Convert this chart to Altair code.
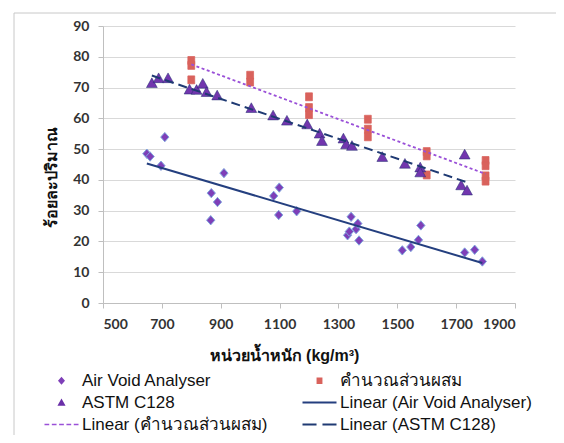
import altair as alt
import pandas as pd

# ---- data ----
ava_x = [649, 660, 697, 710, 866, 868, 889, 911, 1080, 1097, 1099, 1158,
         1331, 1337, 1343, 1360, 1366, 1370, 1517, 1546, 1572, 1580, 1729, 1763, 1789]
ava_y = [48.5, 47.6, 44.6, 53.9, 26.9, 35.7, 32.8, 42.2, 34.8, 28.6, 37.5, 29.8,
         22.0, 23.2, 28.0, 24.0, 25.8, 20.3, 17.1, 18.2, 20.5, 25.2, 16.4, 17.3, 13.5]

astm_x = [666, 689, 721, 794, 818, 839, 852, 888, 1004, 1078, 1125, 1194,
          1236, 1244, 1317, 1326, 1346, 1449, 1526, 1578, 1578, 1717, 1729, 1737]
astm_y = [71.4, 73.0, 73.0, 69.3, 69.2, 71.2, 68.5, 67.4, 63.3, 60.9, 59.2, 58.0,
          55.0, 52.6, 53.4, 51.5, 51.0, 47.4, 45.2, 44.0, 42.4, 38.2, 48.2, 36.5]

calc_x = [800, 800, 800, 1000, 1000, 1200, 1200, 1200, 1400, 1400, 1400,
          1600, 1600, 1600, 1800, 1800, 1800, 1800]
calc_y = [78.8, 77.2, 72.5, 74.0, 71.8, 67.0, 63.5, 61.2, 59.7, 56.5, 54.0,
          49.2, 47.8, 41.6, 46.3, 44.6, 41.3, 39.6]

names = ["Air Void Analyser", "คำนวณส่วนผสม", "ASTM C128",
         "Linear (Air Void Analyser)", "Linear (คำนวณส่วนผสม)", "Linear (ASTM C128)"]

x_ticks = [500, 700, 900, 1100, 1300, 1500, 1700, 1900]
y_ticks = [0, 10, 20, 30, 40, 50, 60, 70, 80, 90]

# ---- styles ----
point_fill = ["#7E3FB8", "#D9625C", "#7236AE"]
point_outline = ["#7FA6DE", "#D9625C", "#1F2A6E"]
point_outline_width = [1, 0.5, 1.4]
color_of = {
    names[0]: "#7E3FB8", names[1]: "#D9625C", names[2]: "#6A2FA8",
    names[3]: "#243F7F", names[4]: "#9A50D8", names[5]: "#1F3A73",
}


def poly(pts):
    return "M" + "L".join(f"{x:.3f},{y:.3f}" for x, y in pts) + "Z"


def rect(x0, x1, h):
    return poly([(x0, -h), (x1, -h), (x1, h), (x0, h)])


def diamond(cx, w, h):
    return poly([(cx, -h), (cx + w, 0), (cx, h), (cx - w, 0)])


def tri(cx, w, top, bot):
    return poly([(cx, top), (cx + w, bot), (cx - w, bot)])


# data-mark shapes (centred)
data_paths = [diamond(0, 0.23, 0.26), rect(-0.19, 0.19, 0.22), tri(0, 0.30, -0.30, 0.24)]

# legend shapes: symbol box 14px (unit 7px); line swatches extend to the left
L, R = -3.857, 1.0
C = (L + R) / 2
anchor = f"M{L},0L{L},0ZM{R},0L{R},0Z"
dot_len = (R - L) / (5 + 4 * 0.55)
dots = "".join(rect(L + i * dot_len * 1.55, L + i * dot_len * 1.55 + dot_len, 0.11) for i in range(5))
dash_len = (R - L - 0.85) / 2
path_of = {
    names[0]: anchor + diamond(C, 0.5, 0.56),
    names[1]: anchor + rect(C - 0.42, C + 0.42, 0.46),
    names[2]: anchor + tri(C, 0.58, -0.56, 0.46),
    names[3]: rect(L, R, 0.14),
    names[4]: anchor + dots,
    names[5]: anchor + rect(L, L + dash_len, 0.14) + rect(R - dash_len, R, 0.14),
}
# legend is filled column by column: left column, then right column
legend_order = [names[0], names[2], names[4], names[1], names[3], names[5]]

df = pd.DataFrame({
    "x": ava_x + calc_x + astm_x,
    "y": ava_y + calc_y + astm_y,
    "series": [names[0]] * len(ava_x) + [names[1]] * len(calc_x) + [names[2]] * len(astm_x),
})
legend_df = pd.DataFrame({"entry": names})

label_font = "Liberation Sans, Noto Sans, sans-serif"

x_enc = alt.X("x:Q", scale=alt.Scale(domain=[500, 1900], nice=False, zero=False),
              axis=alt.Axis(values=x_ticks, grid=False, format="d",
                            title="หน่วยน้ำหนัก (kg/m³)", titleX=181, titleY=52,
                            titleAlign="center", titleBaseline="middle"))
y_enc = alt.Y("y:Q", scale=alt.Scale(domain=[0, 90], nice=False),
              axis=alt.Axis(values=y_ticks, grid=True, labelOverlap=False, tickCount=10,
                            title="ร้อยละปริมาณ", titleX=-52, titleY=151,
                            titleAlign="center", titleBaseline="middle", titleAngle=270))

points = alt.Chart(df).mark_point(filled=True, size=1296, opacity=1).encode(
    x=x_enc, y=y_enc,
    color=alt.Color("series:N", scale=alt.Scale(domain=names[:3], range=point_fill), legend=None),
    shape=alt.Shape("series:N", scale=alt.Scale(domain=names[:3], range=data_paths), legend=None),
    stroke=alt.Stroke("series:N", scale=alt.Scale(domain=names[:3], range=point_outline), legend=None),
    strokeWidth=alt.StrokeWidth("series:N",
                                scale=alt.Scale(domain=names[:3], range=point_outline_width),
                                legend=None),
)

legend = alt.Legend(
    title=None, orient="none", legendX=-40, legendY=346, columns=2,
    columnPadding=34, rowPadding=4, symbolSize=196, symbolStrokeWidth=0,
    labelFont=label_font, labelFontSize=17, labelColor="#111111", labelOffset=2,
    labelLimit=400,
)

legend_layer = alt.Chart(legend_df).transform_filter("datum.entry == 'none'").mark_point(
    filled=True, size=196, opacity=1
).encode(
    color=alt.Color("entry:N", scale=alt.Scale(domain=legend_order,
                                               range=[color_of[n] for n in legend_order]),
                    legend=legend),
    shape=alt.Shape("entry:N", scale=alt.Scale(domain=legend_order,
                                               range=[path_of[n] for n in legend_order]),
                    legend=legend),
)


def trend(name, color, width, dash=None):
    kw = dict(color=color, strokeWidth=width)
    if dash:
        kw["strokeDash"] = dash
    return (alt.Chart(df)
            .transform_filter(alt.datum.series == name)
            .transform_regression("x", "y")
            .mark_line(**kw)
            .encode(x=x_enc, y=y_enc))


t_ava = trend(names[0], "#243F7F", 2)
t_calc = trend(names[1], "#9A50D8", 1.8, [3, 2.5])
t_astm = trend(names[2], "#1F3A73", 2, [9, 5])

frame_df = pd.DataFrame({"k": [0]})
frame_top = alt.Chart(frame_df).mark_rule(color="#C8C8C8", strokeWidth=1).encode(
    x=alt.value(-89), x2=alt.value(460), y=alt.value(-13))
frame_left = alt.Chart(frame_df).mark_rule(color="#C8C8C8", strokeWidth=1).encode(
    x=alt.value(-89), y=alt.value(-13), y2=alt.value(420))

chart = alt.layer(
    points, t_ava, t_calc, t_astm, legend_layer, frame_top, frame_left
).resolve_scale(
    color="independent", shape="independent"
).properties(
    width=412, height=277,
    autosize=alt.AutoSizeParams(type="none"),
    padding={"left": 95, "top": 18, "right": 41, "bottom": 132},
).configure_view(stroke=None).configure_axis(
    gridColor="#D9D9D9", gridWidth=1,
    domainColor="#BFBFBF", tickColor="#BFBFBF", tickSize=5,
    labelFont="Lato", labelFontWeight="bold", labelFontSize=14, labelColor="#333333",
    labelPadding=9,
    titleFont=label_font, titleFontWeight="bold", titleFontSize=16, titleColor="#111111",
)

chart.save("out.html", embed_options={"renderer": "svg", "actions": False})
